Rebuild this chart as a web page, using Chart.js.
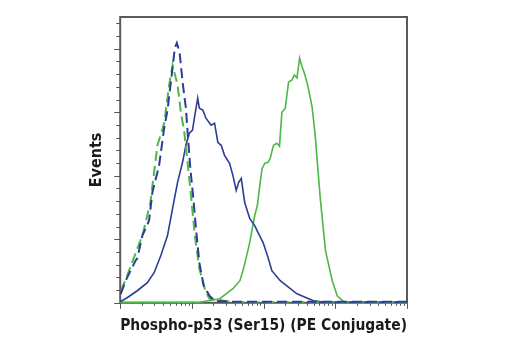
<!DOCTYPE html>
<html>
<head>
<meta charset="utf-8">
<script src="https://cdn.jsdelivr.net/npm/chart.js@4.4.0/dist/chart.umd.min.js"></script>
<style>
  html, body { margin: 0; padding: 0; background: #fff; }
  #wrap { width: 520px; height: 350px; }
</style>
</head>
<body>
<div id="wrap"><canvas id="chart-flow" width="520" height="350"></canvas></div>
<script>
// isotype control, untreated (blue dashed)
const isoBlueX = [1.02, 1.19, 1.64, 1.73, 2.04, 2.53, 2.81, 3.49, 4.10, 4.57, 5.37, 5.78, 6.17, 6.73, 7.41, 8.25, 8.71, 9.51, 10.6, 11.4, 12.7, 14.6, 17.6, 20.8, 40, 100, 1000, 10000];
const isoBlueY = [7, 17.4, 33.2, 35, 52.9, 64.8, 86.9, 108.2, 137.4, 151.7, 184.8, 200.6, 204.6, 197.5, 173.8, 153.2, 134.3, 105.8, 79, 58.5, 31.6, 13.4, 5.5, 1.6, 0.8, 0.8, 0.8, 0.8];

// isotype control, treated (green dashed)
const isoGreenX = [1.03, 1.25, 1.73, 2.04, 2.64, 2.97, 3.31, 4.10, 4.82, 5.37, 6.31, 7.02, 7.83, 8.71, 9.70, 11.0, 12.7, 15.7, 17.7, 40, 10000];
const isoGreenY = [9.5, 21.3, 42.6, 52.9, 79, 103, 124, 141.4, 171.4, 187.2, 171.4, 150, 134.3, 110.6, 84.5, 52.9, 26.9, 7.9, 3.2, 0.5, 0.5];

// Phospho-p53, untreated (blue solid)
const p53BlueX = [1, 1.25, 1.73, 2.39, 2.97, 3.68, 4.57, 5.37, 6.31, 7.41, 8.25, 9.21, 10.2, 11.0, 12.05, 12.7, 14.2, 15.7, 18.5, 20.7, 23.0, 25.6, 28.5, 33.5, 37.3, 41.5, 44.9, 48.8, 54.5, 64.0, 75.2, 83.7, 98.4, 115.6, 130.4, 170.6, 292, 495, 684, 10000];
const p53BlueY = [0.8, 4, 9.5, 15.8, 23.7, 37.1, 52.9, 74.2, 94.8, 110.6, 124, 133.5, 135.9, 147.7, 161.1, 153.2, 151.7, 145.3, 139.8, 141.4, 126.4, 124, 116.1, 109.8, 100.3, 88.5, 94.8, 97.9, 79, 66.4, 60.8, 55.3, 47.4, 35.5, 25.3, 17.4, 7.1, 1.6, 0.5, 0.5];

// Phospho-p53, treated (green solid)
const p53GreenX = [1, 12.8, 24.5, 37.3, 46.8, 51.5, 56.8, 64.0, 75.2, 81.8, 88.5, 95.3, 104, 115.6, 123.3, 137.4, 153.2, 166.6, 180, 200.5, 223, 249, 268, 292, 318, 344, 370, 412, 475, 528, 558, 621, 730, 906, 1064, 1306, 1637, 10000];
const p53GreenY = [0.4, 0.4, 3.2, 11.1, 17.4, 25.3, 34.8, 47.4, 68.7, 76.6, 92.4, 105.8, 109.8, 110.6, 113.7, 124, 125.6, 123.2, 150, 153.2, 173.8, 175.4, 179.3, 177, 192.7, 185.6, 180.9, 171.4, 154, 130.3, 112.2, 80.6, 41.1, 17.4, 5.5, 1, 0.3, 0.3];

const xDecades = [1, 10, 100, 1000, 10000];
const yMinorStep = 10;
const yMajorStep = 50;

const BLUE = '#2e3c97';
const GREEN = '#4cb848';

function toPoints(xs, ys) {
  return xs.map((x, i) => ({ x, y: ys[i] }));
}

const frameTicks = {
  id: 'frameTicks',
  beforeDatasetsDraw(chart) {
    const { ctx, chartArea: a, scales: { x, y } } = chart;
    ctx.save();
    ctx.strokeStyle = '#555555';
    ctx.lineWidth = 1;
    ctx.beginPath();
    // x ticks (log decades with minor ticks)
    for (let d = 0; d < xDecades.length; d++) {
      for (let k = 1; k <= 9; k++) {
        const v = xDecades[d] * k;
        if (v > xDecades[xDecades.length - 1]) break;
        const px = Math.round(x.getPixelForValue(v)) + 0.5;
        const len = k === 1 ? 6 : 3;
        ctx.moveTo(px, a.bottom);
        ctx.lineTo(px, a.bottom + len);
      }
    }
    // y ticks
    for (let v = 0; v <= y.max; v += yMinorStep) {
      const py = Math.round(y.getPixelForValue(v)) + 0.5;
      const len = v % yMajorStep === 0 ? 6 : 4;
      ctx.moveTo(a.left, py);
      ctx.lineTo(a.left - len, py);
    }
    ctx.stroke();
    ctx.lineWidth = 2;
    ctx.strokeStyle = '#5a5a5a';
    ctx.strokeRect(a.left, a.top, a.right - a.left, a.bottom - a.top);
    ctx.restore();
  }
};

const titleFont = { family: "'Liberation Sans Narrow', 'DejaVu Sans Condensed', Arial, sans-serif", size: 16, weight: 'bold' };

new Chart(document.getElementById('chart-flow'), {
  type: 'line',
  data: {
    datasets: [
      { data: toPoints(isoBlueX, isoBlueY), borderColor: BLUE, borderWidth: 2, borderDash: [10, 5] },
      { data: toPoints(isoGreenX, isoGreenY), borderColor: GREEN, borderWidth: 2, borderDash: [10, 5] },
      { data: toPoints(p53BlueX, p53BlueY), borderColor: BLUE, borderWidth: 1.6 },
      { data: toPoints(p53GreenX, p53GreenY), borderColor: GREEN, borderWidth: 1.6 }
    ]
  },
  options: {
    responsive: false,
    animation: false,
    elements: { point: { radius: 0 }, line: { tension: 0, fill: false } },
    datasets: { line: { clip: false } },
    layout: { padding: { left: 87, top: 17, right: 113, bottom: 15 } },
    plugins: { legend: { display: false }, tooltip: { enabled: false } },
    scales: {
      x: {
        type: 'logarithmic',
        min: 1,
        max: 10000,
        grid: { display: false, drawTicks: false, tickLength: 0 },
        border: { display: false },
        ticks: { display: false },
        title: { display: true, text: 'Phospho-p53 (Ser15) (PE Conjugate)', color: '#1a1a1a', font: titleFont, padding: { top: 13, bottom: 0 } }
      },
      y: {
        type: 'linear',
        min: 0,
        max: 225,
        grid: { display: false, drawTicks: false, tickLength: 0 },
        border: { display: false },
        ticks: { display: false },
        title: { display: true, text: 'Events', color: '#1a1a1a', font: titleFont, padding: { top: 0, bottom: 14 } }
      }
    }
  },
  plugins: [frameTicks]
});
</script>
</body>
</html>
